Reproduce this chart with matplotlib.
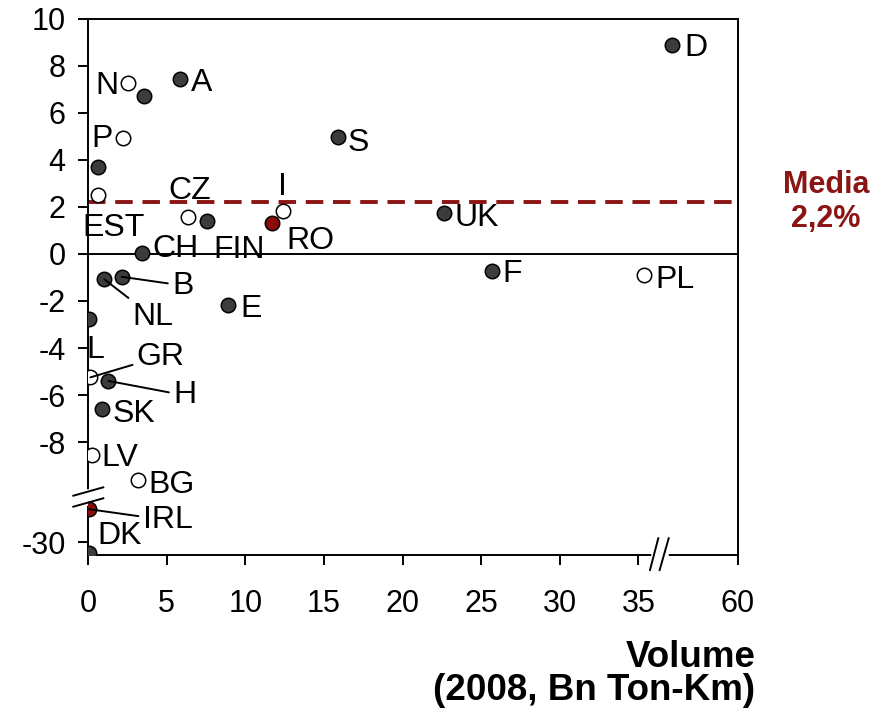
import numpy as np
import matplotlib
matplotlib.use('Agg')
from matplotlib import pyplot as plt
from matplotlib.ticker import FixedLocator, FixedFormatter

plt.rcParams['font.family'] = ['Liberation Sans', 'DejaVu Sans']
plt.rcParams['axes.unicode_minus'] = False

# values (x: volume 2008 Bn Ton-Km, y: growth %)
countries = ['D', 'N', '', 'A', 'P', '', 'S', 'EST', 'CZ', 'FIN', 'RO', 'I',
             'UK', 'CH', 'F', 'PL', 'NL', 'B', 'E', 'L', 'GR', 'H', 'SK',
             'LV', 'BG', 'IRL', 'DK']
volume = [43.5, 2.56, 3.58, 5.85, 2.21, 0.65, 15.87, 0.65, 6.38, 7.55, 11.68,
          12.38, 22.65, 3.45, 25.70, 36.45, 1.04, 2.14, 8.92, 0.05, 0.15,
          1.29, 0.91, 0.27, 3.20, 0.05, 0.05]
growth = [8.89, 7.29, 6.74, 7.45, 4.92, 3.72, 4.99, 2.51, 1.56, 1.42, 1.33,
          1.84, 1.76, 0.03, -0.72, -0.89, -1.08, -0.97, -2.17, -2.78, -5.25,
          -5.40, -6.60, -8.55, -9.62, -15.9, -34.5]
group = ['f', 'o', 'f', 'f', 'o', 'f', 'f', 'o', 'o', 'f', 'r', 'o',
         'f', 'f', 'f', 'o', 'f', 'f', 'f', 'f', 'o', 'f', 'f',
         'o', 'o', 'r', 'f']
media = 2.2
x_ticks = [0, 5, 10, 15, 20, 25, 30, 35, 60]
y_ticks = [10, 8, 6, 4, 2, 0, -2, -4, -6, -8, -30]

# broken axes: squeeze the part beyond the break
XB, XK = 35.0, 0.2532
YB, YK = -10.3, 0.0995


def x_fwd(x):
    x = np.asarray(x, float)
    return np.where(x <= XB, x, XB + (x - XB) * XK)


def x_inv(X):
    X = np.asarray(X, float)
    return np.where(X <= XB, X, XB + (X - XB) / XK)


def y_fwd(y):
    y = np.asarray(y, float)
    return np.where(y >= YB, y, YB + (y - YB) * YK)


def y_inv(Y):
    Y = np.asarray(Y, float)
    return np.where(Y >= YB, Y, YB + (Y - YB) / YK)


# label placement: (dx, dy) in points from the marker, alignment, leader line
label_pos = {
    'D': (8.6, 0, 'left', False), 'A': (7.9, -0.7, 'left', False),
    'N': (-6.7, 0, 'right', False), 'P': (-7, 1.7, 'right', False),
    'S': (7.4, -1.7, 'left', False), 'EST': (11.3, -21.6, 'center', False),
    'CZ': (1.2, 21.1, 'center', False), 'FIN': (4.5, -18.9, 'left', False),
    'I': (0, 19.9, 'center', False), 'RO': (10.3, -11, 'left', False),
    'UK': (7.7, -1.7, 'left', False), 'CH': (7, 5.3, 'left', False),
    'F': (7.7, 0, 'left', False), 'PL': (7.7, -1.4, 'left', False),
    'NL': (19.9, -24.3, 'left', True), 'B': (36.2, -3.8, 'left', True),
    'E': (8.4, -0.7, 'left', False), 'L': (4.8, -19.9, 'center', False),
    'GR': (33.3, 17.5, 'left', True), 'H': (46.6, -7.9, 'left', True),
    'SK': (7, -0.7, 'left', False), 'LV': (6.3, 0, 'left', False),
    'BG': (7, -1.4, 'left', False), 'IRL': (38.7, -5.5, 'left', True),
    'DK': (6.3, 14.2, 'left', False),
}
fills = {'f': '#3c3c3c', 'o': 'white', 'r': '#8b0a0a'}
dark_red = '#8b1414'
fs_lab = 23


def main():
    fig = plt.figure(figsize=(8.75, 7.13), dpi=100)
    ax = fig.add_axes([0.1006, 0.2216, 0.7428, 0.7518])
    ax.set_xscale('function', functions=(x_fwd, x_inv))
    ax.set_yscale('function', functions=(y_fwd, y_inv))
    ax.set_xlim(0, 60)
    ax.set_ylim(-35.5, 10)

    ax.axhline(0, color='k', lw=1.4, zorder=2)
    ax.axhline(media, color=dark_red, lw=2.8, linestyle=(0, (4.5, 2.5)),
               zorder=2)

    vol = np.array(volume)
    gro = np.array(growth)
    grp = np.array(group)
    for g in ['f', 'o', 'r']:
        m = grp == g
        ax.scatter(vol[m], gro[m], s=108, c=fills[g], edgecolor='k',
                   lw=1.1, zorder=3)

    cap = fs_lab * 0.358
    for name, x, y in zip(countries, volume, growth):
        if not name:
            continue
        dx, dy, ha, lead = label_pos[name]
        arrow = None
        if lead:
            arrow = dict(arrowstyle='-', color='k', lw=1.4,
                         shrinkA=1, shrinkB=0)
        ax.annotate(name, (x, y), xytext=(dx, dy - cap),
                    textcoords='offset points', ha=ha, va='baseline',
                    fontsize=fs_lab, arrowprops=arrow, zorder=4,
                    annotation_clip=False)

    # ticks
    ax.xaxis.set_major_locator(FixedLocator(x_ticks))
    ax.xaxis.set_major_formatter(FixedFormatter([str(t) for t in x_ticks]))
    ax.yaxis.set_major_locator(FixedLocator(y_ticks))
    ax.yaxis.set_major_formatter(FixedFormatter([str(t) for t in y_ticks]))
    ax.xaxis.set_minor_locator(FixedLocator([]))
    ax.yaxis.set_minor_locator(FixedLocator([]))
    ax.tick_params(axis='x', direction='out', length=7.2, width=1.4,
                   labelsize=22, pad=17)
    ax.tick_params(axis='y', direction='out', length=7.2, width=1.4,
                   labelsize=22, pad=9)
    for sp in ax.spines.values():
        sp.set_linewidth(1.4)

    # break marks on the axes
    ax.plot([0, 0], [0.0978, 0.1183], color='white', lw=4,
            transform=ax.transAxes, clip_on=False, zorder=2.6)
    for y0, y1 in [(0.1106, 0.1263), (0.0901, 0.1058)]:
        ax.plot([-0.0226, 0.0235], [y0, y1], color='k', lw=1.4,
                transform=ax.transAxes, clip_on=False, zorder=5)
    ax.plot([0.8708, 0.8892], [0, 0], color='white', lw=4,
            transform=ax.transAxes, clip_on=False, zorder=2.6)
    for x0, x1 in [(0.8646, 0.8774), (0.8795, 0.8934)]:
        ax.plot([x0, x1], [-0.028, 0.0312], color='k', lw=1.4,
                transform=ax.transAxes, clip_on=False, zorder=5)

    fig.text(0.863, 0.0645, 'Volume', ha='right', va='baseline',
             fontsize=26.5, fontweight='bold')
    fig.text(0.863, 0.0182, '(2008, Bn Ton-Km)', ha='right', va='baseline',
             fontsize=26.5, fontweight='bold')
    fig.text(0.944, 0.7293, 'Media', ha='center', va='baseline',
             fontsize=22, fontweight='bold', color=dark_red)
    fig.text(0.944, 0.6816, '2,2%', ha='center', va='baseline',
             fontsize=22, fontweight='bold', color=dark_red)

    plt.savefig('out.png', dpi=100)


main()
